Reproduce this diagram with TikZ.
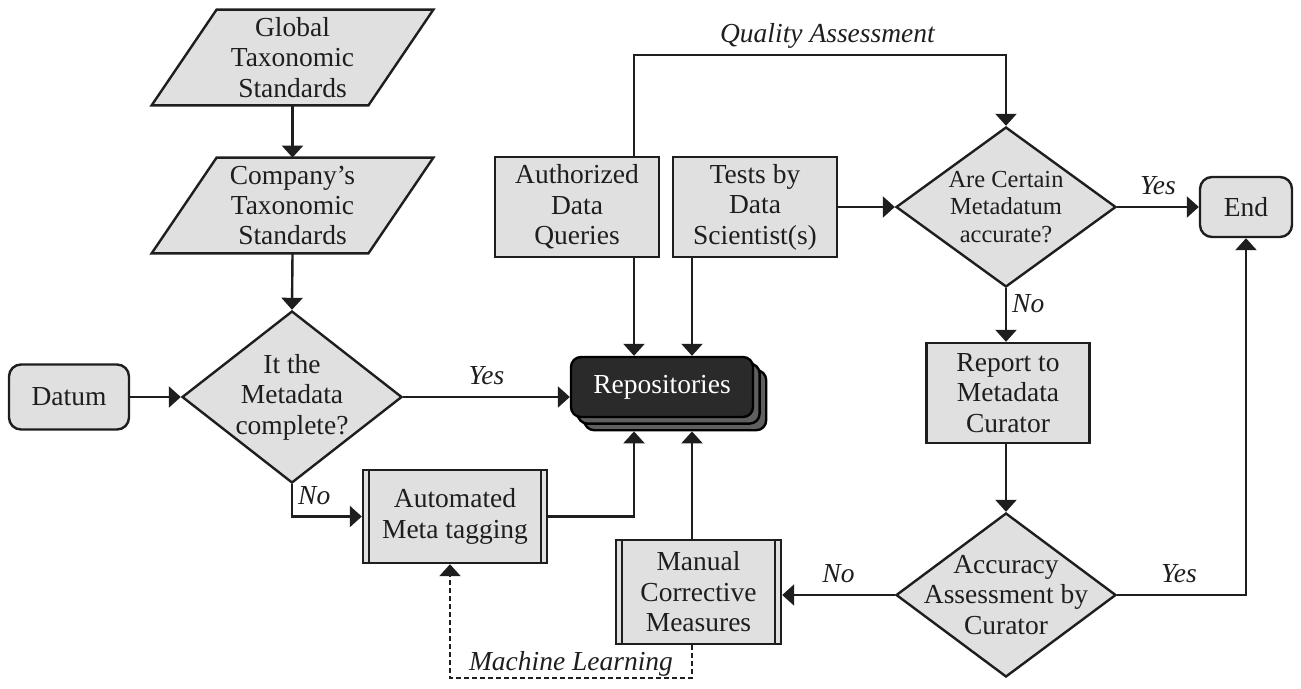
\documentclass[tikz,border=0pt]{standalone}
\usepackage{fontspec}
\setmainfont{Liberation Serif}
\usetikzlibrary{arrows.meta,shapes.geometric,shadows,backgrounds}
\definecolor{boxgray}{RGB}{224,224,224}
\definecolor{inkgray}{RGB}{30,30,30}
\definecolor{repdark}{RGB}{42,42,42}
\definecolor{repshade}{RGB}{95,95,95}
\tikzset{
  every node/.style={font=\fontsize{13.8}{15.3}\selectfont, text=inkgray},
  flow/.style={draw=inkgray, line width=1.2bp, fill=boxgray, align=center, inner sep=0pt},
  term/.style={flow, rectangle, rounded corners=6bp},
  dia/.style={flow, diamond},
  paranode/.style={align=center, inner sep=0pt, minimum width=108bp, minimum height=47.5bp},
  arr/.style={draw=inkgray, line width=1.2bp, -{Triangle[width=10.5bp,length=6bp]}},
  lbl/.style={font=\fontsize{13.8}{15.3}\selectfont\itshape, inner sep=2.5bp, text depth=3bp},
}
\begin{document}
\begin{tikzpicture}[x=0.5bp,y=-0.5bp]
        \useasboundingbox (0,0) rectangle (1301,688);
        %% standards
        \node[paranode] (glob) at (292.5,57.5) {Global\\Taxonomic\\Standards};
        \node[paranode] (comp) at (292.5,205.5) {Company's\\Taxonomic\\Standards};
        \begin{scope}[on background layer]
        \foreach \n in {glob,comp}
          \draw[flow] ([shift={(32.5,0)}]\n.north west) -- ([shift={(32.5,0)}]\n.north east) -- ([shift={(-32.5,0)}]\n.south east) -- ([shift={(-32.5,0)}]\n.south west) -- cycle;
        \end{scope}
        %% first check
        \node[term, minimum width=60bp, minimum height=32.5bp] (datum) at (69,397) {Datum};
        \node[dia, minimum width=110bp, minimum height=86bp, label={[align=center]center:It the\\Metadata\\complete?}] (isok) at (292,397) {};
        \node[flow, minimum width=92bp, minimum height=46.5bp] (auto) at (455,516.5) {Automated\\Meta tagging};
        \node[flow, minimum width=82.5bp, minimum height=52bp] (manual) at (698.5,592) {Manual\\Corrective\\Measures};
        \foreach \n in {auto,manual} {
          \draw[draw=inkgray, line width=1.2bp] ([shift={(7,0)}]\n.north west) -- ([shift={(7,0)}]\n.south west);
          \draw[draw=inkgray, line width=1.2bp] ([shift={(-7,0)}]\n.north east) -- ([shift={(-7,0)}]\n.south east);
        }
        %% repositories
        \node[flow, fill=repdark, draw=black, text=white, rounded corners=5bp, minimum width=91bp, minimum height=30bp,
          copy shadow={shadow xshift=6.6bp, shadow yshift=-6.6bp, fill=repshade, draw=black},
          copy shadow={shadow xshift=3.3bp, shadow yshift=-3.3bp, fill=repshade, draw=black}] (repo) at (662,387) {\color{white}Repositories};
        \coordinate (repb) at ([yshift=-6.6bp]repo.south);
        \node[flow, minimum width=82bp, minimum height=50bp] (authq) at (577,207) {Authorized\\Data\\Queries};
        \node[flow, minimum width=82bp, minimum height=50bp] (tests) at (755,207) {Tests by\\Data\\Scientist(s)};
        %% second check
        \node[dia, minimum width=110bp, minimum height=80bp, label={[align=center, font=\fontsize{12.3}{13.7}\selectfont]center:Are Certain\\Metadatum\\accurate?}] (check) at (1006,207) {};
        \node[term, minimum width=46bp, minimum height=30bp] (finish) at (1246,207) {End};
        \node[flow, minimum width=81.5bp, minimum height=50bp] (report) at (1008,393) {Report to\\Metadata\\Curator};
        \node[dia, minimum width=110bp, minimum height=82bp, label={[align=center]center:Accuracy\\Assessment by\\Curator}] (verify) at (1006,595) {};
        %% connectors
        \coordinate (qa) at (634,55);
        \coordinate (rb) at (692,0);
        \coordinate (ml) at (450,678);
        \draw[arr] (glob.south) -- (comp.north);
        \draw[arr] (comp.south) -- (isok.north);
        \draw[arr] (datum.east) -- (isok.west);
        \draw[arr] (isok.east) -- node[lbl, above] {Yes} (isok.east -| repo.west);
        \draw[arr] (isok.south) |- node[lbl, pos=0.5, above right] {No} (auto.west);
        \draw[arr] (auto.east) -| (repb -| qa);
        \draw[arr] (manual.north -| rb) -- (repb -| rb);
        \draw[arr] (authq.south -| qa) -- (repo.north -| qa);
        \draw[arr] (tests.south -| rb) -- (repo.north -| rb);
        \draw[arr] (authq.north -| qa) -- (qa) -| node[lbl, pos=0.26, above] {Quality Assessment} (check.north);
        \draw[arr] (tests.east) -- (check.west);
        \draw[arr] (check.east) -- node[lbl, above] {Yes} (finish.west);
        \draw[arr] (check.south) -- node[lbl, right, pos=0.35] {No} (check.south |- report.north);
        \draw[arr] (report.south -| check.south) -- (verify.north);
        \draw[arr] (verify.east) -| node[lbl, pos=0.24, above] {Yes} (finish.south);
        \draw[arr] (verify.west) -- node[lbl, above] {No} (verify.west -| manual.east);
        \draw[arr, dash pattern=on 2.5bp off 1.5bp] (manual.south -| rb) -- (rb |- ml) -- node[lbl, above, yshift=-2.5bp] {Machine Learning} (ml) -- (auto.south -| ml);
    \end{tikzpicture}
\end{document}
